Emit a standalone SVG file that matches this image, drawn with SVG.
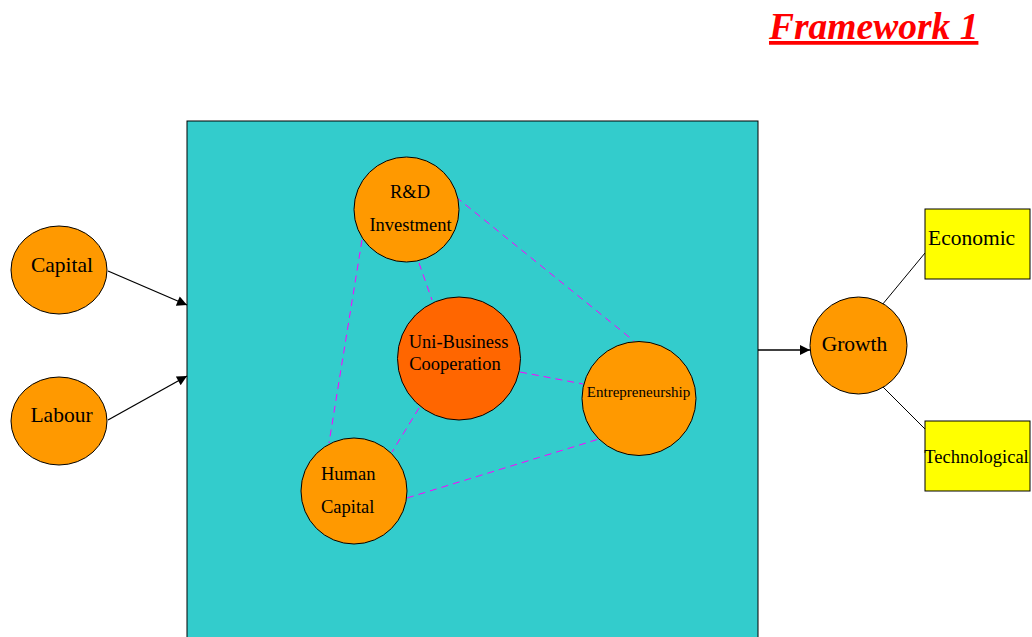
<svg xmlns="http://www.w3.org/2000/svg" width="1032" height="637" viewBox="0 0 1032 637">
  <style>
    text { font-family: "Liberation Serif", "Times New Roman", serif; fill: #000; }
    .node { fill: #FF9900; stroke: #000; stroke-width: 1; }
    .core { fill: #FF6600; stroke: #000; stroke-width: 1; }
    .box { fill: #FFFF00; stroke: #000; stroke-width: 1; }
    .link { stroke: #FF00FF; stroke-width: 1; stroke-dasharray: 7 5; fill: none; }
    .arrow { stroke: #000; stroke-width: 1.3; fill: none; marker-end: url(#head); }
    .plain { stroke: #000; stroke-width: 1; fill: none; }
    .big { font-size: 21.5px; }
    .mid { font-size: 18.5px; }
  </style>
  <defs>
    <marker id="head" viewBox="0 0 10 10" refX="10" refY="5" markerWidth="11" markerHeight="10" orient="auto" markerUnits="userSpaceOnUse">
      <path d="M0,0 L10,5 L0,10 z" fill="#000"/>
    </marker>
  </defs>

  <rect width="1032" height="637" fill="#fff"/>

  <!-- title -->
  <g id="title">
    <text x="769" y="39" font-size="37.5" font-weight="bold" font-style="italic" style="fill:#FF0000" text-decoration="underline">Framework 1</text>
  </g>

  <!-- main panel -->
  <g id="panel">
    <rect x="187" y="121" width="571" height="530" fill="#33CCCC" stroke="#000" stroke-width="1"/>
  </g>

  <!-- connectors -->
  <g id="connectors">
    <line class="arrow" x1="108" y1="271" x2="187" y2="305"/>
    <line class="arrow" x1="108" y1="420" x2="187" y2="376"/>
    <line class="arrow" x1="758" y1="350" x2="810" y2="350"/>
    <line class="plain" x1="882" y1="305" x2="925" y2="253"/>
    <line class="plain" x1="882" y1="386" x2="925" y2="429"/>
    <line class="link" x1="456" y1="197" x2="634" y2="341"/>
    <line class="link" x1="362" y1="240" x2="329" y2="443"/>
    <line class="link" x1="419" y1="263" x2="432" y2="300"/>
    <line class="link" x1="520" y1="372" x2="583" y2="384"/>
    <line class="link" x1="419" y1="408" x2="392" y2="452"/>
    <line class="link" x1="407" y1="498" x2="599" y2="439"/>
  </g>

  <g id="capital">
    <ellipse class="node" cx="59" cy="270" rx="48" ry="44"/>
    <text class="big" x="62" y="272" text-anchor="middle">Capital</text>
  </g>
  <g id="labour">
    <ellipse class="node" cx="59" cy="421" rx="48" ry="44"/>
    <text class="big" x="61.5" y="422" text-anchor="middle">Labour</text>
  </g>

  <g id="rd-investment">
    <circle class="node" cx="406.5" cy="209.5" r="52.5"/>
    <text class="mid" x="410" y="198" text-anchor="middle">R&amp;D</text>
    <text class="mid" x="410.5" y="231" text-anchor="middle">Investment</text>
  </g>

  <g id="uni-business">
    <circle class="core" cx="459" cy="358.5" r="61.5"/>
    <text class="mid" x="458.5" y="348" text-anchor="middle">Uni-Business</text>
    <text class="mid" x="455" y="370" text-anchor="middle">Cooperation</text>
  </g>

  <g id="entrepreneurship">
    <circle class="node" cx="639" cy="398.5" r="57"/>
    <text x="638.5" y="397" font-size="15" text-anchor="middle">Entrepreneurship</text>
  </g>

  <g id="human-capital">
    <circle class="node" cx="354" cy="491" r="53"/>
    <text class="mid" x="321" y="480">Human</text>
    <text class="mid" x="321" y="513">Capital</text>
  </g>

  <g id="growth">
    <circle class="node" cx="858.5" cy="345.5" r="48.5"/>
    <text class="big" x="854.5" y="351" text-anchor="middle">Growth</text>
  </g>

  <g id="economic">
    <rect class="box" x="925" y="209" width="105" height="70"/>
    <text class="big" x="928" y="245">Economic</text>
  </g>

  <g id="technological">
    <rect class="box" x="925" y="421" width="105" height="70"/>
    <text class="mid" x="976.5" y="463" text-anchor="middle">Technological</text>
  </g>
</svg>
